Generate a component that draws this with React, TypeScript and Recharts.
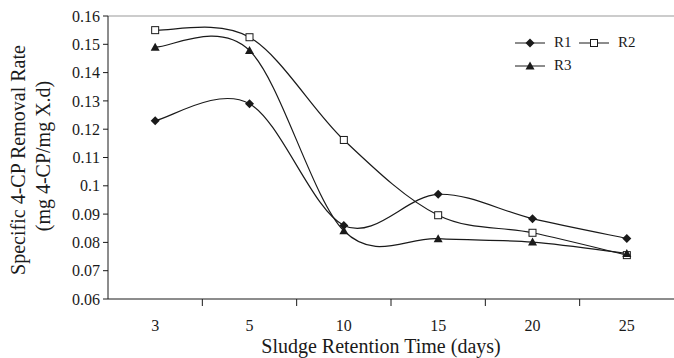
import { LineChart, Line, XAxis, YAxis, ReferenceLine, Legend } from "recharts";

const srt = ["3", "5", "10", "15", "20", "25"];
const r1 = [0.123, 0.129, 0.086, 0.097, 0.0884, 0.0814];
const r2 = [0.155, 0.1525, 0.1162, 0.0896, 0.0834, 0.0755];
const r3 = [0.149, 0.1478, 0.0841, 0.0813, 0.0801, 0.0761];
const yTicks = [0.06, 0.07, 0.08, 0.09, 0.1, 0.11, 0.12, 0.13, 0.14, 0.15, 0.16];

const data = srt.map((d, i) => ({ pos: i + 0.5, srt: d, R1: r1[i], R2: r2[i], R3: r3[i] }));
// labels sit mid-band, tick marks sit on band edges (excel style)
const xTicks = srt.flatMap((_, i) => (i === 0 ? [0.5] : [i, i + 0.5]));

const FONT = "'Liberation Serif', 'Times New Roman', serif";
const INK = "#1a1a1a";

// excel-like smoothed line (bezier, 1/6 tangents)
function excelCurve(context: any) {
  let pts: number[][] = [];
  return {
    areaStart() {},
    areaEnd() {},
    lineStart() {
      pts = [];
    },
    point(x: number, y: number) {
      pts.push([+x, +y]);
    },
    lineEnd() {
      const n = pts.length;
      if (!n) return;
      context.moveTo(pts[0][0], pts[0][1]);
      for (let i = 0; i < n - 1; i++) {
        const p0 = pts[Math.max(i - 1, 0)];
        const p1 = pts[i];
        const p2 = pts[i + 1];
        const p3 = pts[Math.min(i + 2, n - 1)];
        context.bezierCurveTo(
          p1[0] + (p2[0] - p0[0]) / 6,
          p1[1] + (p2[1] - p0[1]) / 6,
          p2[0] - (p3[0] - p1[0]) / 6,
          p2[1] - (p3[1] - p1[1]) / 6,
          p2[0],
          p2[1]
        );
      }
    },
  };
}

function Marker({ kind, cx, cy }: { kind: string; cx: number; cy: number }) {
  if (kind === "R1") {
    return <path d={`M${cx},${cy - 4.5}L${cx + 4.5},${cy}L${cx},${cy + 4.5}L${cx - 4.5},${cy}Z`} fill={INK} />;
  }
  if (kind === "R2") {
    return <rect x={cx - 3.5} y={cy - 3.5} width={7} height={7} fill="#fff" stroke={INK} strokeWidth={1} />;
  }
  return <path d={`M${cx},${cy - 4.5}L${cx + 4.5},${cy + 3.5}L${cx - 4.5},${cy + 3.5}Z`} fill={INK} />;
}

function dotFor(kind: string) {
  return (props: any) => <Marker key={`${kind}-${props.index}`} kind={kind} cx={props.cx} cy={props.cy} />;
}

function XTick({ x, y, payload }: any) {
  const v = payload.value;
  if (Number.isInteger(v)) {
    return <line x1={x} x2={x} y1={y - 7} y2={y} stroke={INK} />;
  }
  return (
    <text x={x} y={y + 25} textAnchor="middle" fontFamily={FONT} fontSize={16} fill={INK}>
      {srt[v - 0.5]}
    </text>
  );
}

function LegendBox() {
  const items = ["R1", "R2", "R3"];
  return (
    <div style={{ display: "flex", flexWrap: "wrap", width: 130, fontFamily: FONT, fontSize: 15, color: INK }}>
      {items.map((k) => (
        <div key={k} style={{ display: "flex", alignItems: "center", height: 23, width: 64 }}>
          <svg width={30} height={12}>
            <line x1={0} x2={30} y1={6} y2={6} stroke={INK} />
            <Marker kind={k} cx={15} cy={6} />
          </svg>
          <span style={{ marginLeft: 9 }}>{k}</span>
        </div>
      ))}
    </div>
  );
}

export default function App() {
  return (
    <div style={{ position: "absolute", left: 0, top: 0, width: 674, height: 358, background: "#fff" }}>
      <LineChart width={674} height={358} data={data} margin={{ top: 16, right: 0, left: 0, bottom: 0 }}>
        <XAxis
          dataKey="pos"
          type="number"
          domain={[0, srt.length]}
          ticks={xTicks}
          interval={0}
          tickLine={false}
          tickSize={7}
          tickMargin={0}
          height={59}
          axisLine={{ stroke: INK }}
          tick={<XTick />}
        />
        <YAxis
          domain={[0.06, 0.16]}
          ticks={yTicks}
          interval={0}
          width={108}
          tickSize={5}
          tickMargin={3}
          axisLine={{ stroke: INK }}
          tickLine={{ stroke: INK }}
          tick={{ fontFamily: FONT, fontSize: 16, fill: INK }}
        />
        <ReferenceLine y={0.16} stroke="#999" />
        <Legend
          layout="horizontal"
          verticalAlign="middle"
          align="center"
          wrapperStyle={{ left: 515, top: 31, width: 140 }}
          content={<LegendBox />}
        />
        <Line dataKey="R1" type={excelCurve as any} stroke={INK} strokeWidth={1.2} dot={dotFor("R1")} activeDot={false} isAnimationActive={false} />
        <Line dataKey="R2" type={excelCurve as any} stroke={INK} strokeWidth={1.2} dot={dotFor("R2")} activeDot={false} isAnimationActive={false} />
        <Line dataKey="R3" type={excelCurve as any} stroke={INK} strokeWidth={1.2} dot={dotFor("R3")} activeDot={false} isAnimationActive={false} />
      </LineChart>
      <div style={{ position: "absolute", left: 18, top: 160, transform: "translate(-50%, -50%) rotate(-90deg)", whiteSpace: "nowrap", fontFamily: FONT, fontSize: 20, lineHeight: "20px", color: INK }}>
        Specific 4-CP Removal Rate
      </div>
      <div style={{ position: "absolute", left: 43, top: 156, transform: "translate(-50%, -50%) rotate(-90deg)", whiteSpace: "nowrap", fontFamily: FONT, fontSize: 20, lineHeight: "20px", color: INK }}>
        (mg 4-CP/mg X.d)
      </div>
      <div style={{ position: "absolute", left: 381, top: 336, transform: "translateX(-50%)", whiteSpace: "nowrap", fontFamily: FONT, fontSize: 20, lineHeight: "20px", color: INK }}>
        Sludge Retention Time (days)
      </div>
    </div>
  );
}
